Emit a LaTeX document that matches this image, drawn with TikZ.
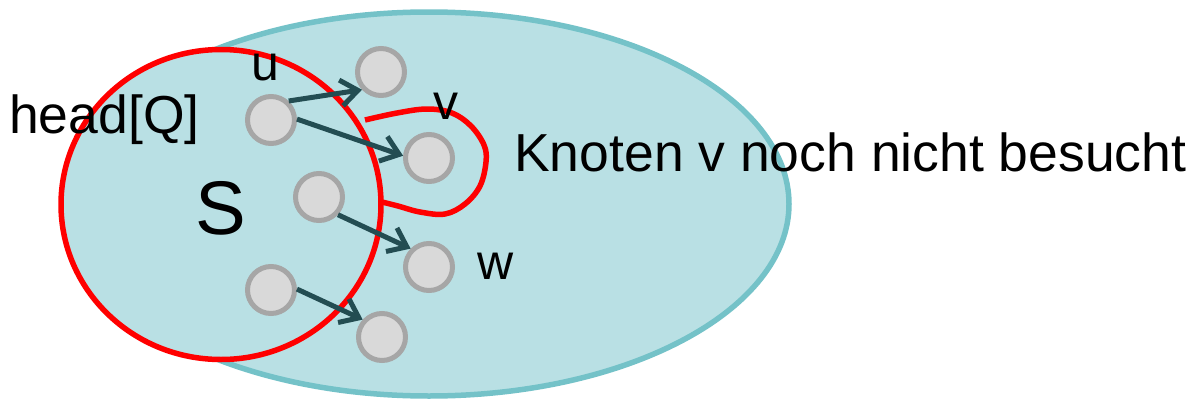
\documentclass[tikz,border=0pt]{standalone}
\usepackage{fontspec}
\setmainfont{Liberation Sans}
\usetikzlibrary{arrows.meta}
\definecolor{ellfill}{RGB}{185,224,228}
\definecolor{elldraw}{RGB}{116,194,200}
\definecolor{nodefill}{RGB}{217,217,217}
\definecolor{nodedraw}{RGB}{166,166,166}
\definecolor{arrcol}{RGB}{35,77,82}
\definecolor{setred}{RGB}{255,0,0}
\tikzset{
  gnode/.style={circle, fill=nodefill, draw=nodedraw, line width=5pt, minimum size=47pt, inner sep=0pt},
  arr/.style={draw=arrcol, line width=5pt, -{Straight Barb[length=17pt, width=26pt]}},
  setline/.style={draw=setred, line width=5.5pt},
  lbl/.style={inner sep=0pt, anchor=base, font=\fontsize{50}{60}\selectfont},
}
\begin{document}
\begin{tikzpicture}[x=1pt,y=-1pt]
\useasboundingbox (0,0) rectangle (1195,399);
% big ellipse
\draw[fill=ellfill, draw=elldraw, line width=5.5pt] (429,204) ellipse [x radius=360, y radius=192];
% set S
\draw[setline, fill=ellfill] (221,204.5) ellipse [x radius=160, y radius=155];
% loop around v
\draw[setline, line join=round] plot[smooth, tension=0.6] coordinates
  {(365,120) (397,113) (427,109) (452,113) (471,126) (484,145) (486,162) (480,186) (465,204) (445,214) (420,212) (398,206) (382,202)};
% nodes
\node[gnode] (a) at (271,120) {};
\node[gnode] (b) at (381,72) {};
\node[gnode] (v) at (429,158) {};
\node[gnode] (c) at (319,197) {};
\node[gnode] (w) at (429,267) {};
\node[gnode] (d) at (271,290) {};
\node[gnode] (e) at (382,337) {};
% arrows
\draw[arr] (a.47) -- (b.223);
\draw[arr] (a.2) -- (v.175);
\draw[arr] (c.-43) -- (w.135);
\draw[arr] (d.2) -- (e.138);
% labels
\node[lbl, anchor=base west, font=\fontsize{53.5}{64}\selectfont] (head) at (9,133) {head[Q]};
\node[lbl, anchor=base west, font=\fontsize{53.5}{64}\selectfont] (knoten) at (514,171) {Knoten v noch nicht besucht};
\node[lbl] (ul) at (265,80) {u};
\node[lbl] (vl) at (446,119) {v};
\node[lbl] (wl) at (496,279) {w};
\node[lbl, font=\fontsize{76}{90}\selectfont] (S) at (221,234) {S};
\end{tikzpicture}
\end{document}
